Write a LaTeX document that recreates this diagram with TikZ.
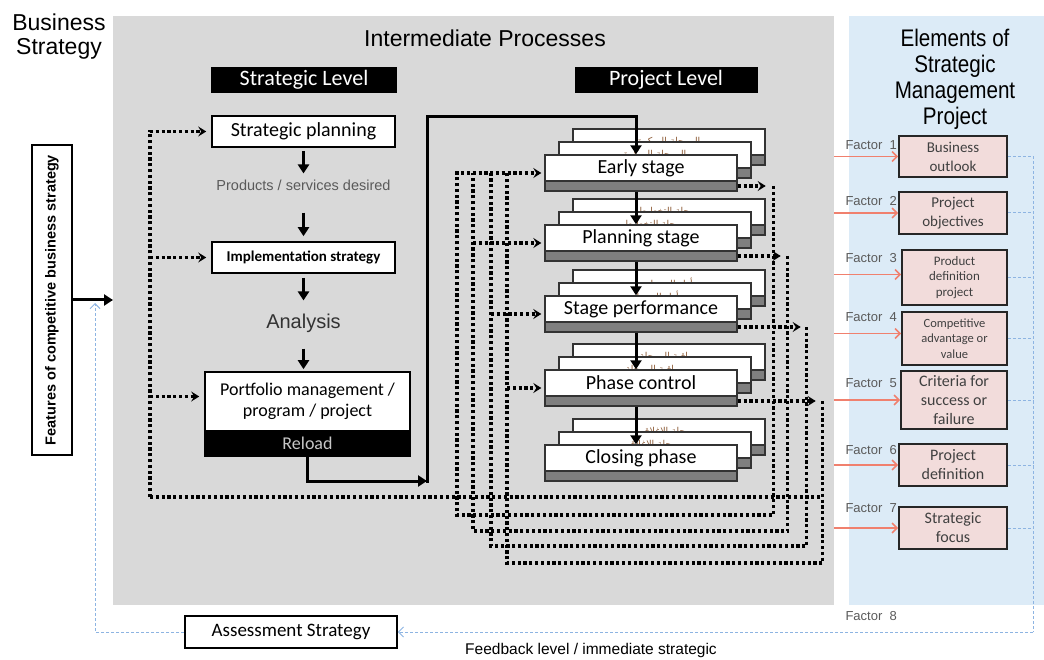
\documentclass[tikz,border=0pt]{standalone}
\usepackage{fontspec}
\setmainfont{Carlito}
\newfontfamily\arial{Liberation Sans}
\newfontfamily\arialnarrow[FakeStretch=0.86]{Liberation Sans}
\newfontfamily\arabicfont[Script=Arabic]{DejaVu Sans}
\TeXXeTstate=1
\usetikzlibrary{arrows.meta,calc}

\definecolor{panelgray}{HTML}{D9D9D9}
\definecolor{panelblue}{HTML}{DCEBF7}
\definecolor{factorpink}{HTML}{F2DCDB}
\definecolor{barfill}{HTML}{7F7F7F}
\definecolor{cardedge}{HTML}{333333}
\definecolor{salmon}{HTML}{F0806E}
\definecolor{feedblue}{HTML}{8DB4E2}
\definecolor{softtext}{HTML}{5A5A5A}
\definecolor{factortext}{HTML}{404040}
\definecolor{arabictext}{HTML}{8C5A35}

\newcommand\fsz[2]{\fontsize{#1}{#2}\selectfont}

\tikzset{
  heavy/.style={line width=3pt, black},
  heavyarrow/.style={heavy, -{Triangle[length=9pt,width=11pt]}},
  dots/.style={line width=3.2pt, dash pattern=on 3.2pt off 2.6pt},
  dotarrow/.style={dots, -{Stealth[length=8pt,width=10pt,inset=3pt]}},
  header/.style={fill=black, text=white, font=\fsz{22}{24}, inner sep=0, minimum height=26pt},
  stratbox/.style={draw=black, line width=1.6pt, fill=white, inner sep=0, minimum width=183pt, minimum height=31pt},
  cardline/.style={draw=cardedge, line width=1.4pt},
  stagecard/.style={cardline, fill=white, inner sep=0, minimum width=192pt, minimum height=26pt, font=\fsz{20}{22}},
  stagebar/.style={cardline, fill=barfill, inner sep=0, minimum width=192pt, minimum height=10pt},
  backtext/.style={text=arabictext, font=\arabicfont\fsz{9.5}{10}, inner sep=0},
  factor/.style={draw=black!85, line width=1.8pt, fill=factorpink, text=factortext, align=center, inner sep=0},
  factorlabel/.style={font=\arial\fsz{13}{15}, text=softtext, inner sep=0, anchor=east},
  redarrow/.style={draw=salmon, line width=1.5pt, -{Straight Barb[length=5pt,width=10pt]}},
  bluedash/.style={draw=feedblue, line width=1pt, dash pattern=on 3pt off 2pt},
  bluearrow/.style={bluedash, -{Straight Barb[length=5pt,width=10pt]}}
}

% one stage of the project level: two cards stacked behind a front card
% #1 name, #2 top of the front card, #3 label, #4 text on the cards behind
\newcommand\projectstage[4]{%
  \foreach \k/\dx in {2/28,1/14} {%
    \draw[cardline, fill=barfill] ({545+\dx},{#2-13*\k}) rectangle ++(192,36);
    \draw[cardline, fill=white] ({545+\dx},{#2-13*\k}) rectangle ++(192,26);
    \node[backtext] (#1back\k) at ({641+\dx},{#2-13*\k+13.5}) {#4};
  }
  \node[stagebar] (#1bar) at (641,{#2+31}) {};
  \node[stagecard] (#1) at (641,{#2+13}) {#3};
}

\begin{document}
\begin{tikzpicture}[x=1pt,y=-1pt]
\useasboundingbox (0,0) rectangle (1044,660);

% background panels
\node[fill=panelgray, inner sep=0, minimum width=721pt, minimum height=589pt, anchor=north west] (mid) at (113,16) {};
\node[fill=panelblue, inner sep=0, minimum width=195pt, minimum height=589pt, anchor=north west] (elem) at (849,16) {};

% titles
\node[font=\arial\fsz{23}{24}, align=center] (bizstrat) at (59,37) {Business\\Strategy};
\node[font=\arial\fsz{23}{26}] (midtitle) at (485,38) {Intermediate Processes};
\node[font=\arialnarrow\fsz{24}{26}, align=center] (elemtitle) at (955,79) {Elements of\\Strategic\\Management\\Project};

\node[header, minimum width=186pt] (stratlevel) at (304,80) {Strategic Level};
\node[header, minimum width=183pt] (projlevel) at (666,80) {Project Level};

% strategic level column
\node[stratbox, font=\fsz{20}{22}] (stratplan) at (303.5,131.5) {Strategic planning};
\node[font=\arial\fsz{14.5}{16}, text=softtext, inner sep=0] (desired) at (303.5,185) {Products / services desired};
\node[stratbox, font=\bfseries\fsz{15}{17}] (implement) at (303.5,257.5) {Implementation strategy};
\node[font=\arial\fsz{20}{22}, text=black!80, inner sep=0] (analysis) at (303.5,323) {Analysis};
\node[draw=black, line width=1.6pt, fill=white, minimum width=205pt, minimum height=59pt, align=center, font=\fsz{18}{21}, inner sep=0] (portfolio) at (307.5,401.5) {Portfolio management /\\program / project};
\node[fill=black, draw=black, line width=1.6pt, minimum width=205pt, minimum height=25pt, text=black!22, font=\fsz{18}{20}, inner sep=0] (reload) at (307.5,443.5) {Reload};

\draw[heavyarrow, shorten <=3pt, shorten >=6pt] (stratplan.south) -- (desired.north);
\draw[heavyarrow, shorten <=22pt, shorten >=5pt] (desired.south) -- (implement.north);
\draw[heavyarrow, shorten <=4pt, shorten >=13pt] (implement.south) -- (analysis.north);
\draw[heavyarrow, shorten <=16pt, shorten >=2pt] (analysis.south) -- (analysis.south |- portfolio.north);

% left-hand boxes
\node[draw=black, line width=2pt, rotate=90, font=\arial\bfseries\fsz{14.5}{16}, minimum width=310pt, minimum height=40pt, inner sep=0] (features) at (52,300) {Features of competitive business strategy};
\node[draw=black, line width=1.6pt, minimum width=212pt, minimum height=32pt, inner sep=0, font=\fsz{19}{21}] (assess) at (291,632) {Assessment Strategy};
\draw[heavyarrow] (features.south) -- (features.south -| mid.west);

% project level stages
\projectstage{early}{155}{Early stage}{\beginR المرحلة المبكرة\endR}
\projectstage{plan}{225}{Planning stage}{\beginR مرحلة التخطيط\endR}
\projectstage{perf}{296}{Stage performance}{\beginR أداء المرحلة\endR}
\projectstage{phase}{370}{Phase control}{\beginR مراقبة المرحلة\endR}
\projectstage{close}{445}{Closing phase}{\beginR مرحلة الإغلاق\endR}

% dotted feedback loops
\coordinate (sloop) at (150,497);
\coordinate (portin) at ([yshift=5pt]portfolio.west);
\path (earlybar.east) ++(36,0) coordinate (eo);
\path (planbar.east) ++(50,0) coordinate (po);
\path (perfbar.east) ++(69,0) coordinate (fo);
\path (phasebar.east) ++(85,0) coordinate (co);
\coordinate (eb) at (457,515);
\coordinate (pb) at (473,531);
\coordinate (fb) at (491,546);
\coordinate (cb) at (507,563);
\coordinate (ein) at ([yshift=-5pt]early.west);
\coordinate (pin) at ([yshift=-5pt]plan.west);
\coordinate (fin) at ([yshift=-5pt]perf.west);
\coordinate (cin) at ([yshift=-5pt]phase.west);

\draw[dotarrow, shorten >=5pt] (sloop) |- (stratplan.west);
\draw[dotarrow, shorten >=5pt] (sloop |- implement.west) -- (implement.west);
\draw[dotarrow, shorten >=5pt] (sloop |- portin) -- (portin);
\draw[dots] (sloop) -- (sloop -| co);

\draw[dotarrow, shorten >=8pt] (earlybar.east) -- (eo);
\draw[dotarrow, shorten >=3pt] (eo) |- (eb) |- (ein);
\draw[dotarrow, shorten >=7pt] (planbar.east) -- (po);
\draw[dots] (po) |- (pb) -- (pb |- ein);
\draw[dotarrow, shorten >=3pt] (pb |- pin) -- (pin);
\draw[dotarrow, shorten >=6pt] (perfbar.east) -- (fo);
\draw[dots] (fo) |- (fb) -- (fb |- ein);
\draw[dotarrow, shorten >=3pt] (fb |- fin) -- (fin);
\draw[dotarrow, shorten >=7pt] (phasebar.east) -- (co);
\draw[dots] (co) |- (cb) -- (cb |- ein);
\draw[dotarrow, shorten >=3pt] (cb |- cin) -- (cin);

% solid path from the portfolio to the project level
\coordinate (bend) at (427,481);
\coordinate (overtop) at (636,117);
\draw[heavyarrow] (reload.south) |- (bend);
\draw[heavyarrow] ([yshift=-1.5pt]bend) |- (overtop) -- (overtop |- early.north);
\draw[heavyarrow] ([xshift=-5pt]earlybar.south) -- ([xshift=-5pt]plan.north);
\draw[heavyarrow] ([xshift=-5pt]planbar.south) -- ([xshift=-5pt]perf.north);
\draw[heavyarrow] ([xshift=-5pt]perfbar.south) -- ([xshift=-5pt]phase.north);
\draw[heavyarrow] ([xshift=-5pt]phasebar.south) -- ([xshift=-5pt]close.north);

% elements of the strategic management project
\node[factor, minimum width=108pt, minimum height=41pt, font=\fsz{15}{19}] (f1) at (953,156.5) {Business\\outlook};
\node[factor, minimum width=108pt, minimum height=42pt, font=\fsz{15}{19}] (f2) at (953,213) {Project\\objectives};
\node[factor, minimum width=105pt, minimum height=55pt, font=\fsz{13}{15.5}] (f3) at (954.5,277.5) {Product\\definition\\project};
\node[factor, minimum width=105pt, minimum height=53pt, font=\fsz{12.5}{15.5}] (f4) at (954.5,338.5) {Competitive\\advantage or\\value};
\node[factor, minimum width=106pt, minimum height=58pt, font=\fsz{16}{19}] (f5) at (954,400) {Criteria for\\success or\\failure};
\node[factor, minimum width=108pt, minimum height=42pt, font=\fsz{16}{19}] (f6) at (953,465) {Project\\definition};
\node[factor, minimum width=108pt, minimum height=42pt, font=\fsz{16}{19}] (f7) at (953,528) {Strategic\\focus};

\node[factorlabel] (lab1) at (897,145) {Factor\ \ 1};
\node[factorlabel] (lab2) at (897,201) {Factor\ \ 2};
\node[factorlabel] (lab3) at (897,258) {Factor\ \ 3};
\node[factorlabel] (lab4) at (897,317) {Factor\ \ 4};
\node[factorlabel] (lab5) at (897,383) {Factor\ \ 5};
\node[factorlabel] (lab6) at (897,450) {Factor\ \ 6};
\node[factorlabel] (lab7) at (897,508) {Factor\ \ 7};
\node[factorlabel] (lab8) at (897,616) {Factor\ \ 8};

\coordinate (f3in) at ([yshift=3pt]f3.west);
\coordinate (f4in) at ([yshift=5pt]f4.west);
\draw[redarrow] (mid.east |- f1.west) -- (f1.west);
\draw[redarrow] (mid.east |- f2.west) -- (f2.west);
\draw[redarrow] (mid.east |- f3in) -- (f3in);
\draw[redarrow] (mid.east |- f4in) -- (f4in);
\draw[redarrow] (mid.east |- f5.west) -- (f5.west);
\draw[redarrow] (mid.east |- f6.west) -- (f6.west);
\draw[redarrow] (mid.east |- f7.west) -- (f7.west);

% feedback to the business strategy
\coordinate (fbcorner) at (1033,632);
\coordinate (fbtip) at (95,303);
\draw[bluedash] (f1.east) -| (fbcorner);
\foreach \f in {f2,f3,f4,f5,f6,f7} {\draw[bluedash] (\f.east) -- (\f.east -| fbcorner);}
\draw[bluearrow] (fbcorner) -- (assess.east);
\draw[bluearrow] (assess.west) -| (fbtip);
\node[font=\arial\fsz{15.5}{17}] (feedbacklbl) at (591,650) {Feedback level / immediate strategic};

\end{tikzpicture}
\end{document}
